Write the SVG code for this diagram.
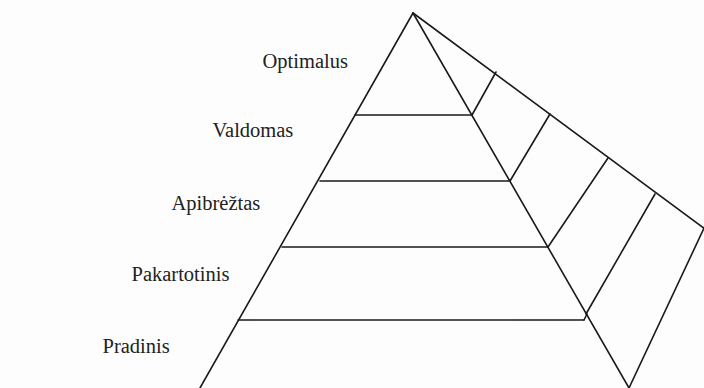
<svg xmlns="http://www.w3.org/2000/svg" width="704" height="388" viewBox="0 0 704 388">
  <style>
    .ln { stroke: #1a1a1a; stroke-width: 1.6; fill: none; stroke-linecap: round; }
    .lbl { font-family: "Liberation Serif", "Times New Roman", serif; font-size: 20.5px; fill: #222; }
  </style>
  <rect width="704" height="388" fill="#fdfdfd"/>
  <g id="pyramid-frame">
    <line class="ln" x1="413" y1="13" x2="200" y2="388"/>
    <line class="ln" x1="413" y1="13" x2="629" y2="388"/>
    <line class="ln" x1="413" y1="13" x2="705" y2="229"/>
    <line class="ln" x1="629" y1="388" x2="705" y2="226"/>
  </g>
  <g id="level-dividers">
    <line class="ln" x1="355" y1="115" x2="472" y2="115"/>
    <line class="ln" x1="320" y1="181" x2="510" y2="181"/>
    <line class="ln" x1="282" y1="247" x2="548" y2="247"/>
    <line class="ln" x1="238" y1="320" x2="584" y2="320"/>
    <line class="ln" x1="584" y1="320" x2="587" y2="314"/>
  </g>
  <g id="side-dividers">
    <line class="ln" x1="472" y1="115" x2="496" y2="72"/>
    <line class="ln" x1="510" y1="181" x2="550" y2="114"/>
    <line class="ln" x1="548" y1="247" x2="608" y2="158"/>
    <line class="ln" x1="586" y1="314" x2="655" y2="194"/>
  </g>
  <g id="level-optimalus"><text class="lbl" x="262.5" y="68">Optimalus</text></g>
  <g id="level-valdomas"><text class="lbl" x="212.5" y="137">Valdomas</text></g>
  <g id="level-apibreztas"><text class="lbl" x="171.5" y="210">Apibrėžtas</text></g>
  <g id="level-pakartotinis"><text class="lbl" x="131.5" y="281">Pakartotinis</text></g>
  <g id="level-pradinis"><text class="lbl" x="102.5" y="353">Pradinis</text></g>
</svg>
